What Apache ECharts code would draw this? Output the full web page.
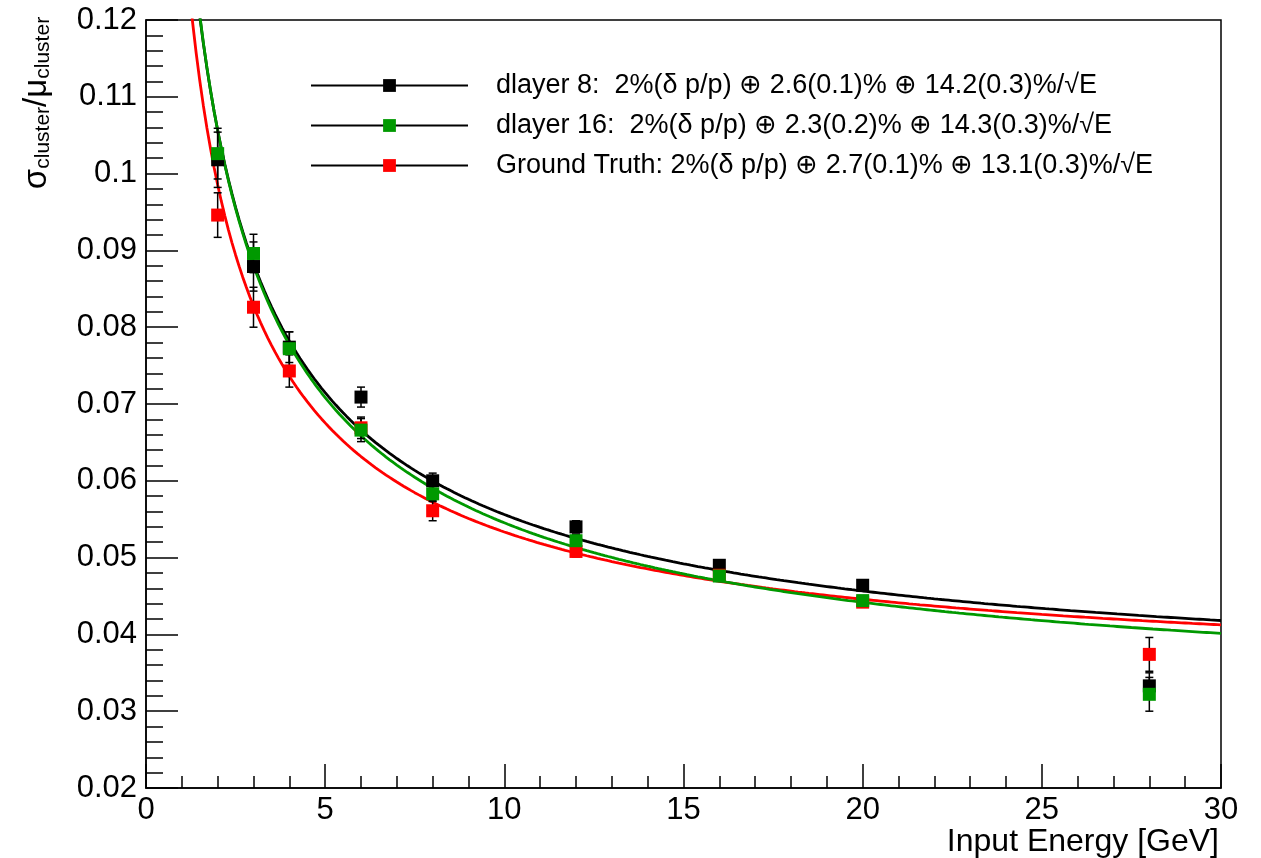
<!DOCTYPE html>
<html>
<head>
<meta charset="utf-8">
<script src="https://cdn.jsdelivr.net/npm/echarts@6/dist/echarts.min.js"></script>
<style>
  html, body { margin: 0; padding: 0; background: #fff; }
  #chart { width: 1261px; height: 858px; }
</style>
</head>
<body>
<div id="chart"></div>
<script>
// Beam energies [GeV] and measured cluster resolution sigma/mu with errors
const energies = [2, 3, 4, 6, 8, 12, 16, 20, 28];

const dlayer8Res   = [0.1018, 0.0879, 0.0774, 0.0709, 0.0600, 0.0540, 0.0490, 0.0464, 0.0333];
const dlayer8Err   = [0.0036, 0.0032, 0.0020, 0.0013, 0.0010, 0.0008, 0.0007, 0.0007, 0.0017];

const dlayer16Res  = [0.1026, 0.0896, 0.0772, 0.0666, 0.0583, 0.0522, 0.0476, 0.0444, 0.0322];
const dlayer16Err  = [0.0033, 0.0025, 0.0022, 0.0015, 0.0010, 0.0008, 0.0007, 0.0006, 0.0022];

const truthRes     = [0.0946, 0.0826, 0.0743, 0.0669, 0.0561, 0.0508, 0.0477, 0.0442, 0.0374];
const truthErr     = [0.0029, 0.0026, 0.0021, 0.0014, 0.0013, 0.0007, 0.0007, 0.0006, 0.0022];

// Fit results: sigma/E = 2% (+) b (+) c/sqrt(E), in percent
const beamSpread = 2.0;
const fitConst = [2.6, 2.3, 2.7];
const fitStoch = [14.2, 14.3, 13.1];

const legendLabels = [
  'dlayer 8:  2%(\u03b4 p/p) \u2295 2.6(0.1)% \u2295 14.2(0.3)%/\u221aE',
  'dlayer 16:  2%(\u03b4 p/p) \u2295 2.3(0.2)% \u2295 14.3(0.3)%/\u221aE',
  'Ground Truth: 2%(\u03b4 p/p) \u2295 2.7(0.1)% \u2295 13.1(0.3)%/\u221aE'
];
const colors = ['#000000', '#009900', '#ff0000'];

const xTicks = { min: 0, max: 30, interval: 5 };
const yTicks = { min: 0.02, max: 0.12, interval: 0.01 };

const FONT = 'Liberation Sans';

function fitCurve(i) {
  const pts = [];
  for (let k = 0; k <= 290; k++) {
    const e = 1.0 + k * 0.1;
    const v = Math.sqrt(beamSpread * beamSpread + fitConst[i] * fitConst[i] + fitStoch[i] * fitStoch[i] / e) / 100;
    pts.push([e, v]);
  }
  return pts;
}

function errData(res, err) {
  return energies.map((e, i) => [e, res[i], err[i]]);
}
function ptData(res) {
  return energies.map((e, i) => [e, res[i]]);
}

function renderErr(params, api) {
  const x = api.value(0), y = api.value(1), e = api.value(2);
  const top = api.coord([x, y + e]);
  const bot = api.coord([x, y - e]);
  const hw = 4;
  const st = { stroke: '#000', lineWidth: 1.5 };
  return {
    type: 'group',
    children: [
      { type: 'line', shape: { x1: top[0], y1: top[1], x2: bot[0], y2: bot[1] }, style: st },
      { type: 'line', shape: { x1: top[0] - hw, y1: top[1], x2: top[0] + hw, y2: top[1] }, style: st },
      { type: 'line', shape: { x1: bot[0] - hw, y1: bot[1], x2: bot[0] + hw, y2: bot[1] }, style: st }
    ]
  };
}

const sets = [
  { res: dlayer8Res, err: dlayer8Err, c: 0 },
  { res: truthRes, err: truthErr, c: 2 },
  { res: dlayer16Res, err: dlayer16Err, c: 1 }
];

const series = [];
// fitted resolution curves
sets.forEach(s => {
  series.push({
    type: 'line', data: fitCurve(s.c), showSymbol: false, symbol: 'none',
    lineStyle: { color: colors[s.c], width: 2.8 }, clip: true, silent: true, z: 2
  });
});
// measured points with error bars
sets.forEach(s => {
  series.push({
    type: 'custom', data: errData(s.res, s.err), renderItem: renderErr, z: 3, silent: true
  });
  series.push({
    name: legendLabels[s.c], type: 'line', data: ptData(s.res),
    symbol: 'rect', symbolSize: 13, showSymbol: true,
    itemStyle: { color: colors[s.c] },
    lineStyle: { opacity: 0 }, z: 4, silent: true
  });
});

const chart = echarts.init(document.getElementById('chart'));
chart.setOption({
  animation: false,
  backgroundColor: '#fff',
  grid: { left: 146, right: 40, top: 20, bottom: 70, show: true, borderColor: '#000', borderWidth: 1.5, backgroundColor: 'transparent' },
  xAxis: {
    type: 'value', min: xTicks.min, max: xTicks.max, interval: xTicks.interval,
    axisLine: { lineStyle: { color: '#000', width: 1.5 } },
    axisTick: { inside: true, length: 24, lineStyle: { color: '#000', width: 1.5 } },
    minorTick: { show: true, splitNumber: 5, length: 12, lineStyle: { color: '#000', width: 1.5 } },
    splitLine: { show: false },
    axisLabel: { color: '#000', fontFamily: FONT, fontSize: 31, margin: 7 }
  },
  yAxis: {
    type: 'value', min: yTicks.min, max: yTicks.max, interval: yTicks.interval,
    axisLine: { lineStyle: { color: '#000', width: 1.5 } },
    axisTick: { inside: true, length: 32, lineStyle: { color: '#000', width: 1.5 } },
    minorTick: { show: true, splitNumber: 5, length: 17, lineStyle: { color: '#000', width: 1.5 } },
    splitLine: { show: false },
    axisLabel: { color: '#000', fontFamily: FONT, fontSize: 31, margin: 9 }
  },
  legend: {
    orient: 'vertical', left: 305, top: 67,
    itemWidth: 157, itemHeight: 16, itemGap: 13,
    selectedMode: false,
    data: legendLabels,
    lineStyle: { color: '#000', width: 2, opacity: 1 },
    textStyle: { color: '#000', fontFamily: FONT, fontSize: 27, padding: [0, 0, 0, 23] }
  },
  graphic: [
    {
      type: 'text', x: 1219, y: 842,
      style: { text: 'Input Energy [GeV]', fill: '#000', font: '32px "Liberation Sans"', align: 'right', verticalAlign: 'middle' }
    },
    {
      type: 'text', x: 37, y: 103, rotation: Math.PI / 2,
      style: {
        text: '{m|\u03c3}{s|cluster}{m|/\u03bc}{s|cluster}',
        align: 'center', verticalAlign: 'middle', fill: '#000',
        rich: {
          m: { fontFamily: FONT, fontSize: 33, lineHeight: 33, fill: '#000' },
          s: { fontFamily: FONT, fontSize: 21, lineHeight: 21, padding: [20, 0, 0, 0], verticalAlign: 'bottom', fill: '#000' }
        }
      }
    }
  ],
  series: series
});
</script>
</body>
</html>
